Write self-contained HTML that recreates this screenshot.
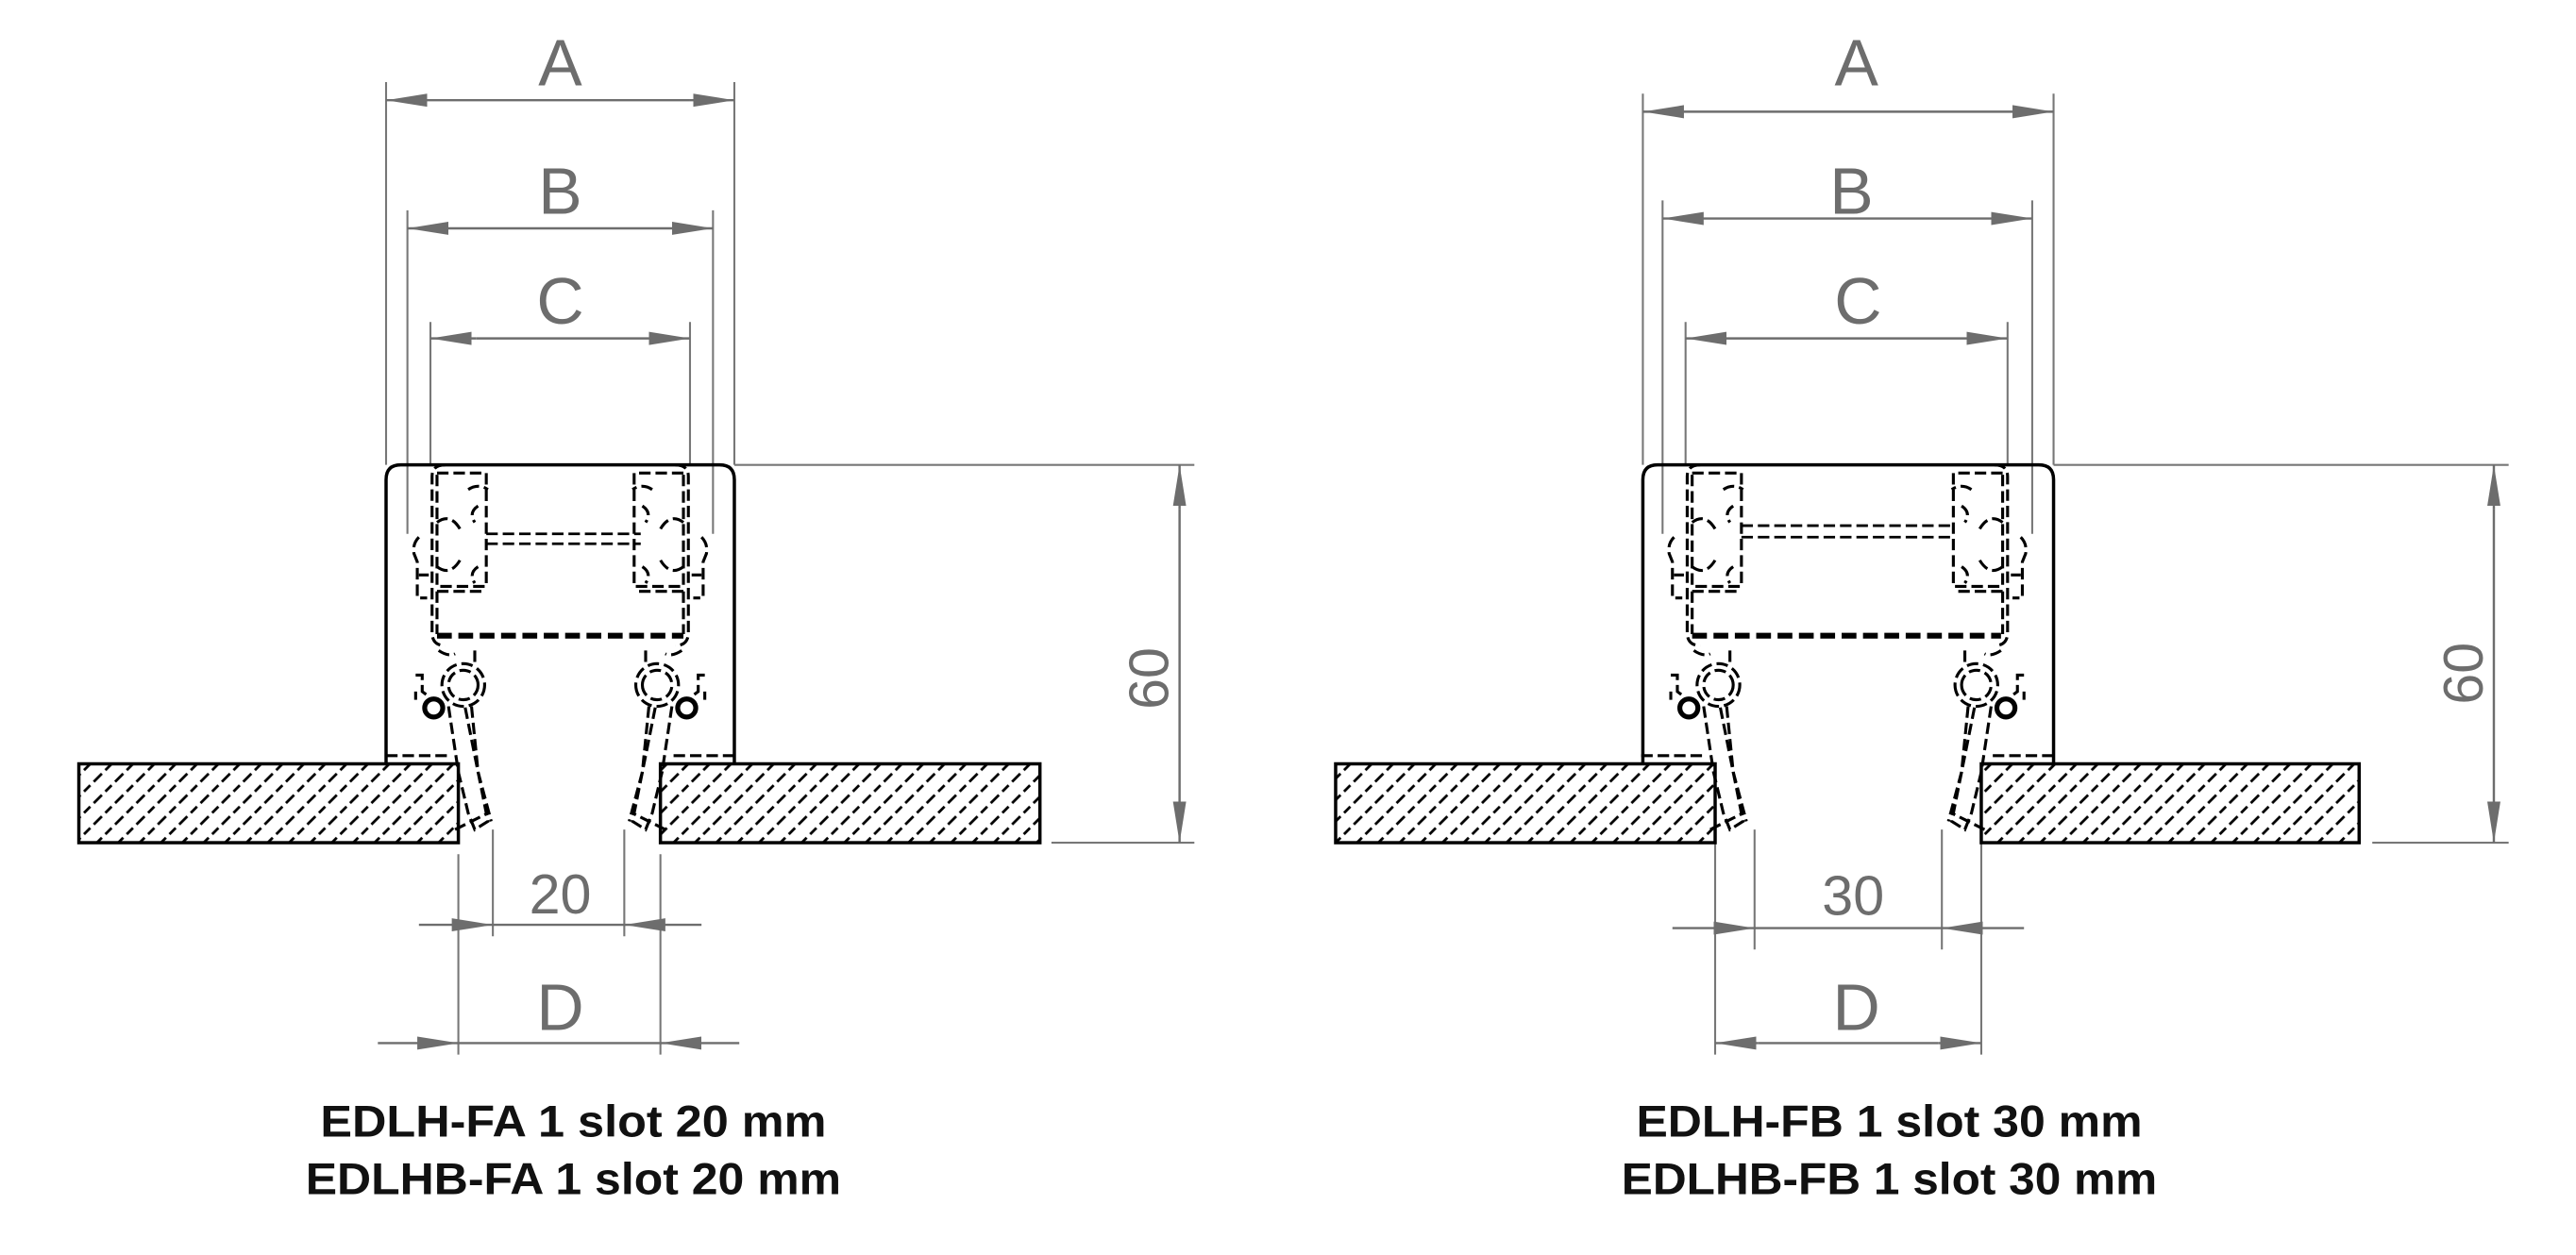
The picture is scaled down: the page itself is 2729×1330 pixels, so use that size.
<!DOCTYPE html>
<html><head><meta charset="utf-8"><style>html,body{margin:0;padding:0;background:#fff}svg{display:block}</style></head>
<body>
<svg width="2729" height="1330" viewBox="0 0 1568 764" preserveAspectRatio="none" xmlns="http://www.w3.org/2000/svg">
<defs>
<pattern id="h" patternUnits="userSpaceOnUse" width="13" height="13">
<path d="M-2,15 L15,-2" stroke="#000" stroke-width="1.6" stroke-dasharray="7,3"/>
<path d="M-8,8 L8,-8 M5,21 L21,5" stroke="#000" stroke-width="1.6" stroke-dasharray="7,3"/>
</pattern>
<g id="half" fill="none" stroke="#000" stroke-width="1.8" stroke-dasharray="7,3">
<path d="M8,283 Q0,283 0,290 V385 Q0,393 8,393"/>
<path d="M3,288 H33 V357 H3 Z"/>
<path d="M22,298 q6,-4 12,0 M28,308 q-6,4 -2,10 M3,318 q8,-6 14,4 M3,345 q8,6 14,-4 M28,345 q-6,4 -2,10"/>
<path d="M-8,327 q-4,4 -3,10 l2,5 v22 h6 M-8,350 h6"/>
<path d="M3,360 H30 M3,360 V386"/>
<path d="M4,396 q6,4 10,2 M26,396 v8"/>
<circle cx="19" cy="417" r="9"/>
<circle cx="19" cy="417" r="13"/>
<path d="M-10,411 h4 v10 l4,3 M-10,421 v5"/>
<path d="M10,430 L16,470 L22,495 L26,505 L34,500 L30,480 L20,430"/>
<path d="M24,430 L28,470 L36,500"/>
<path d="M14,505 L34,495"/>
<path d="M-28,460 H10"/>
</g>
<g id="ring"><circle cx="1" cy="431" r="5.5" fill="none" stroke="#000" stroke-width="3"/></g>
<marker id="ar" viewBox="0 0 25 10" refX="25" refY="5" markerWidth="25" markerHeight="10" markerUnits="userSpaceOnUse" orient="auto"><path d="M0,1 L25,5 L0,9 Z" fill="#6d6d6d"/></marker>
</defs>

<g font-family="'Liberation Sans',sans-serif" fill="#6d6d6d" font-size="40" text-anchor="middle">
<g stroke="#777" stroke-width="1.2" fill="none">
<path d="M235,50 V283 M447,50 V283 M248,128 V325 M434,128 V325 M262,196 V283 M420,196 V283"/>
<path d="M447,283 H727 M640,513 H727"/>
<path d="M279,520 V642 M402,520 V642 M300,505 V570 M380,505 V570"/>
</g>
<g stroke="#6d6d6d" stroke-width="1.4">
<line x1="260" y1="61" x2="235" y2="61" marker-end="url(#ar)"/><line x1="420" y1="61" x2="447" y2="61" marker-end="url(#ar)"/><line x1="260" y1="61" x2="420" y2="61"/>
<line x1="270" y1="139" x2="248" y2="139" marker-end="url(#ar)"/><line x1="410" y1="139" x2="434" y2="139" marker-end="url(#ar)"/><line x1="270" y1="139" x2="410" y2="139"/>
<line x1="290" y1="206" x2="262" y2="206" marker-end="url(#ar)"/><line x1="395" y1="206" x2="420" y2="206" marker-end="url(#ar)"/><line x1="290" y1="206" x2="395" y2="206"/>
<line x1="718" y1="310" x2="718" y2="283" marker-end="url(#ar)"/><line x1="718" y1="490" x2="718" y2="513" marker-end="url(#ar)"/><line x1="718" y1="310" x2="718" y2="490"/>
<line x1="255" y1="563" x2="300" y2="563" marker-end="url(#ar)"/><line x1="427" y1="563" x2="380" y2="563" marker-end="url(#ar)"/><line x1="300" y1="563" x2="380" y2="563"/>
<line x1="230" y1="635" x2="279" y2="635" marker-end="url(#ar)"/><line x1="450" y1="635" x2="402" y2="635" marker-end="url(#ar)"/><line x1="279" y1="635" x2="402" y2="635"/>
</g>
<text x="341" y="52">A</text><text x="341" y="130">B</text><text x="341" y="197">C</text>
<text x="341" y="556" font-size="34">20</text><text x="341" y="627">D</text>
<text transform="translate(711,413) rotate(-90)" font-size="34">60</text>

<path d="M235,465 V292 Q235,283 244,283 H438 Q447,283 447,292 V465" fill="none" stroke="#000" stroke-width="2"/>
<rect x="48" y="465" width="231" height="48" fill="url(#h)" stroke="#000" stroke-width="2"/>
<rect x="402" y="465" width="231" height="48" fill="url(#h)" stroke="#000" stroke-width="2"/>
<use href="#half" transform="translate(263,0)"/><use href="#ring" transform="translate(263,0)"/>
<use href="#half" transform="translate(419,0) scale(-1,1)"/><use href="#ring" transform="translate(419,0) scale(-1,1)"/>
<path d="M296,325 H390 M296,331 H390" stroke="#000" stroke-width="1.6" stroke-dasharray="7,3" fill="none"/>
<path d="M266,387 H416" stroke="#000" stroke-width="3.5" stroke-dasharray="9,4"/>

<g stroke="#777" stroke-width="1.2" fill="none">
<path d="M1000,57 V283 M1250,57 V283 M1012,122 V325 M1237,122 V325 M1026,196 V283 M1222,196 V283"/>
<path d="M1250,283 H1527 M1444,513 H1527"/>
<path d="M1044,507 V642 M1206,507 V642 M1068,505 V578 M1182,505 V578"/>
</g>
<g stroke="#6d6d6d" stroke-width="1.4">
<line x1="1025" y1="68" x2="1000" y2="68" marker-end="url(#ar)"/><line x1="1225" y1="68" x2="1250" y2="68" marker-end="url(#ar)"/><line x1="1025" y1="68" x2="1225" y2="68"/>
<line x1="1035" y1="133" x2="1012" y2="133" marker-end="url(#ar)"/><line x1="1215" y1="133" x2="1237" y2="133" marker-end="url(#ar)"/><line x1="1035" y1="133" x2="1215" y2="133"/>
<line x1="1050" y1="206" x2="1026" y2="206" marker-end="url(#ar)"/><line x1="1198" y1="206" x2="1222" y2="206" marker-end="url(#ar)"/><line x1="1050" y1="206" x2="1198" y2="206"/>
<line x1="1518" y1="310" x2="1518" y2="283" marker-end="url(#ar)"/><line x1="1518" y1="490" x2="1518" y2="513" marker-end="url(#ar)"/><line x1="1518" y1="310" x2="1518" y2="490"/>
<line x1="1018" y1="565" x2="1068" y2="565" marker-end="url(#ar)"/><line x1="1232" y1="565" x2="1182" y2="565" marker-end="url(#ar)"/><line x1="1068" y1="565" x2="1182" y2="565"/>
<line x1="1070" y1="635" x2="1044" y2="635" marker-end="url(#ar)"/><line x1="1180" y1="635" x2="1206" y2="635" marker-end="url(#ar)"/><line x1="1070" y1="635" x2="1180" y2="635"/>
</g>
<text x="1130" y="52">A</text><text x="1127" y="130">B</text><text x="1131" y="197">C</text>
<text x="1128" y="557" font-size="34">30</text><text x="1130" y="627">D</text>
<text transform="translate(1511,410) rotate(-90)" font-size="34">60</text>

<path d="M1000,465 V292 Q1000,283 1009,283 H1241 Q1250,283 1250,292 V465" fill="none" stroke="#000" stroke-width="2"/>
<rect x="813" y="465" width="231" height="48" fill="url(#h)" stroke="#000" stroke-width="2"/>
<rect x="1206" y="465" width="230" height="48" fill="url(#h)" stroke="#000" stroke-width="2"/>
<use href="#half" transform="translate(1027,0)"/><use href="#ring" transform="translate(1027,0)"/>
<use href="#half" transform="translate(1222,0) scale(-1,1)"/><use href="#ring" transform="translate(1222,0) scale(-1,1)"/>
<path d="M1060,320 H1190 M1060,327 H1190" stroke="#000" stroke-width="1.6" stroke-dasharray="7,3" fill="none"/>
<path d="M1030,387 H1218" stroke="#000" stroke-width="3.5" stroke-dasharray="9,4"/>

<g fill="#111" font-weight="bold" font-size="27">
<text x="349" y="692" textLength="308" lengthAdjust="spacingAndGlyphs">EDLH-FA 1 slot 20 mm</text>
<text x="349" y="727" textLength="326" lengthAdjust="spacingAndGlyphs">EDLHB-FA 1 slot 20 mm</text>
<text x="1150" y="692" textLength="308" lengthAdjust="spacingAndGlyphs">EDLH-FB 1 slot 30 mm</text>
<text x="1150" y="727" textLength="326" lengthAdjust="spacingAndGlyphs">EDLHB-FB 1 slot 30 mm</text>
</g>
</g>
</svg>
</body></html>
